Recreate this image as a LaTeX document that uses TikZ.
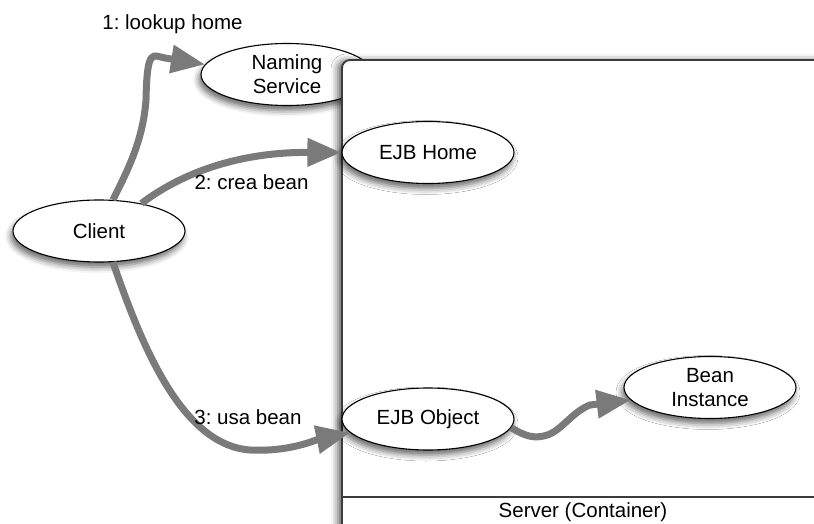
\documentclass[tikz,border=0pt]{standalone}
\usepackage{fontspec}
\setmainfont{Liberation Sans}
\frenchspacing
\usetikzlibrary{shapes.geometric,arrows.meta,shadows.blur}
\definecolor{flowgray}{RGB}{122,122,122}
\definecolor{framegray}{RGB}{60,60,60}
\begin{document}
\begin{tikzpicture}[x=1pt,y=-1pt,
  comp/.style={ellipse, draw=black, line width=1.1pt, fill=white,
    minimum width=172pt, minimum height=62pt, inner sep=0pt, align=center,
    font=\fontsize{20.5}{24}\selectfont,
    blur shadow={shadow xshift=-2pt, shadow yshift=-5pt,
      shadow blur radius=6pt, shadow opacity=60}},
  call/.style={draw=flowgray, line width=7pt,
    -{Triangle[length=34pt,width=27pt]}},
  lbl/.style={font=\fontsize{20.5}{24}\selectfont, inner sep=0pt}]
\useasboundingbox (0,0) rectangle (814,524);
\clip (0,0) rectangle (814,524);

% naming service sits partly behind the server frame
\node[comp] (naming) at (287,74.5) {Naming\\Service};

% server (container) frame
\path[draw=framegray, line width=1.9pt, fill=white, rounded corners=8pt,
  blur shadow={shadow xshift=-4pt, shadow yshift=-1pt,
    shadow blur radius=7pt, shadow opacity=65}]
  (342,60) rectangle (840,560);
\draw[framegray, line width=1.4pt] (342,497) -- (814,497);
\node[lbl] (server) at (583,512) {Server (Container)};

% components
\node[comp] (client) at (99,231) {Client};
\node[comp] (home)   at (428,152.5) {EJB Home};
\node[comp] (obj)    at (428,419) {EJB Object};
\node[comp] (bean)   at (710,387.5) {Bean\\Instance};

% calls
\draw[call] (client.66) .. controls (128,170) and (143,140) .. (146,100)
  .. controls (147,46) and (153,56) .. (165,58) -- (naming.173);
\draw[call] (client.33) .. controls (175,178) and (230,152) .. (home.west);
\draw[call] (client.294) .. controls (140,340) and (180,445) .. (250,450)
  .. controls (290,452) and (315,440) .. (obj.190);
\draw[call] (obj.354) .. controls (525,436) and (535,440) .. (550,434)
  .. controls (563,428) and (574,411) .. (590,405) -- (bean.189);

% call labels
\node[lbl] (l1) at (172.5,24) {1: lookup home};
\node[lbl] (l2) at (251.5,182) {2: crea bean};
\node[lbl] (l3) at (248,417) {3: usa bean};
\end{tikzpicture}
\end{document}
